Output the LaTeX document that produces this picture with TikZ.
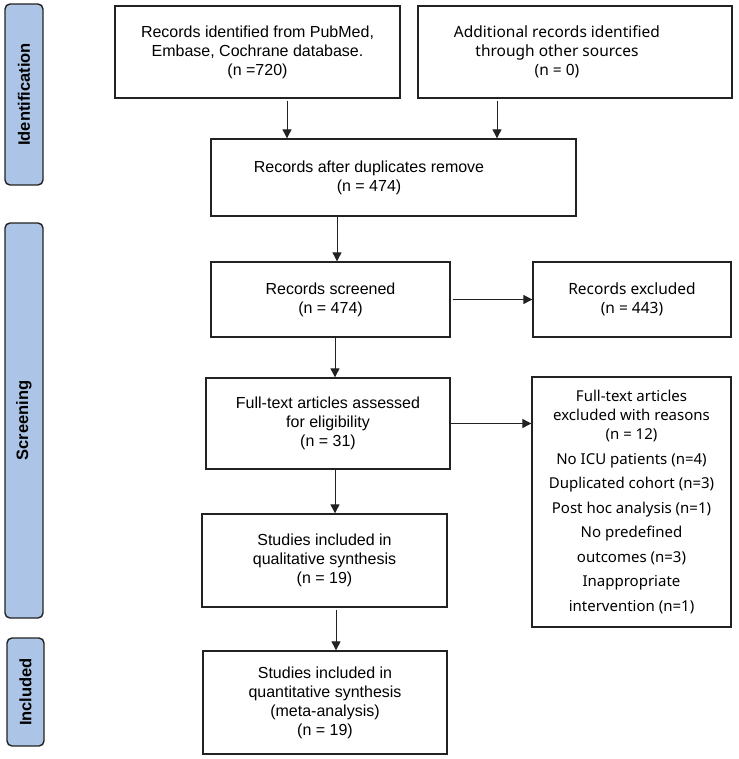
\documentclass[tikz,border=0pt]{standalone}
\usepackage{fontspec}
\setmainfont{Liberation Sans}
\newfontfamily\yahei{Noto Sans}
\usetikzlibrary{arrows.meta}
\definecolor{phaseblue}{RGB}{172,197,231}
\definecolor{edge}{RGB}{34,34,34}

\begin{document}
\begin{tikzpicture}[x=1pt, y=-1pt,
    box/.style = {draw=edge, line width=1.3pt, rectangle, align=center, inner sep=0pt,
                  font=\fontsize{16}{19}\selectfont},
    txt/.style = {align=center, inner sep=0pt, font=\fontsize{16}{19}\selectfont},
    phase/.style = {draw=edge, line width=1.4pt, fill=phaseblue, rounded corners=5pt,
                    rotate=90, inner sep=0pt, font=\fontsize{16.5}{18}\selectfont\bfseries},
    arr/.style = {-{Triangle[length=9pt, width=9pt]}, line width=0.9pt, draw=edge}]
    \useasboundingbox (0,0) rectangle (738,759);

    % phase bars
    \node[phase, minimum width=181pt, minimum height=38pt] (ident) at (24,94.5) {Identification};
    \node[phase, minimum width=395pt, minimum height=38pt] (screen) at (24,420.5) {Screening};
    \node[phase, minimum width=108pt, minimum height=37pt] (incl) at (25.5,692) {Included};

    % identification
    \node[box, minimum width=285pt, minimum height=92pt] (srcdb) at (257.5,52)
        {Records identified from PubMed,\\Embase, Cochrane database.\\(n =720)};
    \node[box, minimum width=314pt, minimum height=92pt] (srcoth) at (575,52) {};
    \node[txt, font=\fontsize{15.5}{19}\selectfont\yahei] (srcothtxt) at (557,52)
        {Additional records identified\\through other sources\\(n = 0)};
    \node[box, minimum width=365pt, minimum height=77pt] (dup) at (393.5,177.5) {};
    \node[txt] (duptxt) at (369,178) {Records after duplicates remove\\(n = 474)};

    % screening
    \node[box, minimum width=239pt, minimum height=75pt] (screened) at (330.5,299.5)
        {Records screened\\(n = 474)};
    \node[box, minimum width=198pt, minimum height=75pt, font=\fontsize{15.5}{19}\selectfont\yahei]
        (excl) at (632,299.5) {Records excluded\\(n = 443)};
    \node[box, minimum width=244pt, minimum height=91pt] (full) at (328,423.5)
        {Full-text articles assessed\\for eligibility\\(n = 31)};
    \node[box, minimum width=199pt, minimum height=250pt, font=\fontsize{15}{19}\selectfont\yahei]
        (fexcl) at (631.5,502)
        {Full-text articles\\excluded with reasons\\(n = 12)\\[5.5pt]
         No ICU patients (n=4)\\[5.5pt]Duplicated cohort (n=3)\\[5.5pt]
         Post hoc analysis (n=1)\\[5.5pt]No predefined\\[5.5pt]outcomes (n=3)\\[5.5pt]
         Inappropriate\\[5.5pt]intervention (n=1)};
    \node[box, minimum width=245pt, minimum height=93pt] (qual) at (324.5,560.5)
        {Studies included in\\qualitative synthesis\\(n = 19)};

    % included
    \node[box, minimum width=244pt, minimum height=103pt] (quant) at (325,702.5)
        {Studies included in\\quantitative synthesis\\(meta-analysis)\\(n = 19)};

    % connectors
    \draw[arr] ([xshift=29.5pt,yshift=-2pt]srcdb.south) -- ([xshift=29.5pt]srcdb.south |- dup.north);
    \draw[arr] ([xshift=-78pt,yshift=-2pt]srcoth.south) -- ([xshift=-78pt]srcoth.south |- dup.north);
    \draw[arr] ([xshift=6.5pt]screened.north |- dup.south) -- ([xshift=6.5pt]screened.north);
    \draw[arr] ([xshift=4.5pt]screened.south) -- ([xshift=4.5pt]screened.south |- full.north);
    \draw[arr] ([xshift=2pt]screened.east) -- (screened.east -| excl.west);
    \draw[arr] (full.east) -- (full.east -| fexcl.west);
    \draw[arr] ([xshift=7pt]full.south) -- ([xshift=7pt]full.south |- qual.north);
    \draw[arr] ([xshift=11.5pt,yshift=-2pt]qual.south) -- ([xshift=11.5pt]qual.south |- quant.north);
\end{tikzpicture}
\end{document}
